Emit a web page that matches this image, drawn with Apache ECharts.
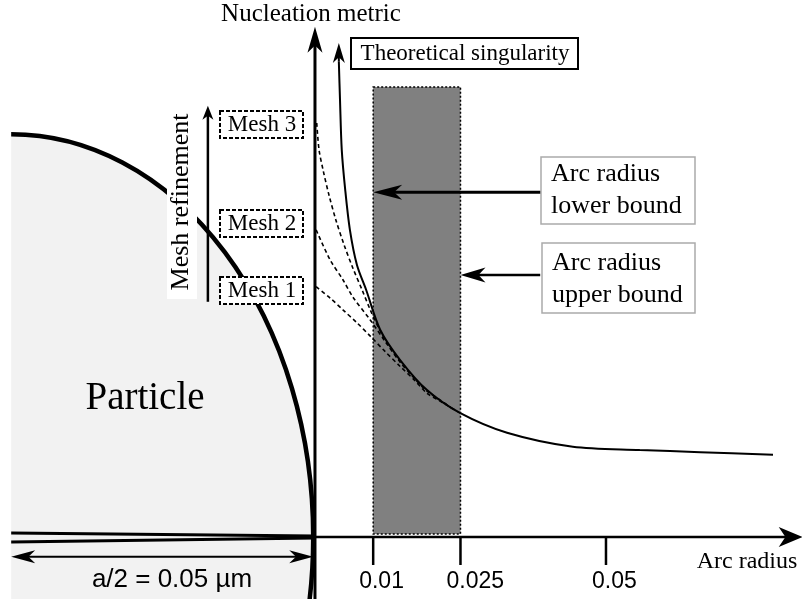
<!DOCTYPE html>
<html><head><meta charset="utf-8">
<script src="https://cdn.jsdelivr.net/npm/echarts@6/dist/echarts.min.js"></script>
<style>html,body{margin:0;padding:0;background:#fff}#c{width:802px;height:599px}</style>
</head><body><div id="c"></div>
<script>
// ---- scales (arc radius on x, nucleation metric in arbitrary units on y)
const X_MIN = -0.05412, X_MAX = 0.08368;
const Y_MIN = -1.155, Y_MAX = 10;

// ---- x-axis ticks
const tickValues = [0.01, 0.025, 0.05];
const tickLabels = ['0.01', '0.025', '0.05'];

// ---- curves
const singularityCurve = [[0.0041,8.85],[0.0043,8.14],[0.0046,7.21],[0.0052,6.46],[0.0060,5.72],[0.0072,5.07],[0.0088,4.60],[0.0112,3.86],[0.0146,3.30],[0.0192,2.74],[0.0249,2.31],[0.0330,1.94],[0.0443,1.68],[0.0558,1.62],[0.0662,1.58],[0.0787,1.53]];
const mesh3Curve = [[0.0003,7.71],[0.0007,7.21],[0.0014,6.83],[0.0024,6.37],[0.0036,5.90],[0.0050,5.44],[0.0065,5.01],[0.0081,4.60],[0.0095,4.23],[0.0112,3.84],[0.0132,3.48],[0.0146,3.28]];
const mesh2Curve = [[0.0002,5.72],[0.0026,5.16],[0.0048,4.79],[0.0065,4.47],[0.0095,4.04],[0.0120,3.65],[0.0146,3.26],[0.0172,2.94],[0.0192,2.72],[0.0215,2.55],[0.0235,2.40]];
const mesh1Curve = [[0.0002,4.66],[0.0026,4.45],[0.0048,4.23],[0.0072,3.99],[0.0095,3.74],[0.0120,3.46],[0.0146,3.18],[0.0172,2.91],[0.0192,2.68],[0.0215,2.53],[0.0246,2.33]];

// ---- arc radius bounds band
const boundsRange = [0.01, 0.025];
const boundsMetric = [0.056, 8.38];

// ---- particle (centre and radii)
const particleCenter = [-0.0522, 0];
const particleRadii = [0.0519, 7.5];

// ---- arrows / segments [x1, y1, x2, y2]
const arrowSegments = [
  [0, -1.155, 0, 9.50],          // nucleation metric axis
  [0, 0, 0.0838, 0],             // arc radius axis
  [0.0041, 8.85, 0.0041, 9.20],  // theoretical singularity
  [-0.0184, 4.38, -0.0184, 8.03],// mesh refinement
  [0.0388, 6.42, 0.01, 6.42],    // lower bound
  [0.0387, 4.88, 0.025, 4.88],   // upper bound
  [-0.0522, -0.37, -0.0003, -0.37], // a/2
  [-0.0522, 0.075, 0, 0.019],    // particle section line
  [-0.0522, -0.093, 0, -0.019]   // particle section line
];
const arrowStyles = [
  {len:26, wid:15, lw:3},
  {len:24, wid:20, lw:2.5},
  {len:20, wid:12, lw:2},
  {len:14, wid:11, lw:2.5},
  {len:29, wid:15, lw:3},
  {len:25, wid:15, lw:2.5},
  {len:24, wid:13, lw:2, both:true},
  {len:0, lw:3},
  {len:0, lw:3}
];

const SERIF = '"Liberation Serif", "Times New Roman", serif';
const SANS = '"Liberation Sans", Arial, sans-serif';

function arrowItem(params, api) {
  const st = arrowStyles[params.dataIndex];
  const p1 = api.coord([api.value(0), api.value(1)]);
  const p2 = api.coord([api.value(2), api.value(3)]);
  const dx = p2[0] - p1[0], dy = p2[1] - p1[1];
  const L = Math.hypot(dx, dy);
  const ux = dx / L, uy = dy / L, nx = -uy, ny = ux;
  const children = [];
  function head(tip, sx, sy) {
    const bx = tip[0] - sx * st.len, by = tip[1] - sy * st.len;
    const w = st.wid / 2;
    const notch = [tip[0] - sx * st.len * 0.72, tip[1] - sy * st.len * 0.72];
    return {type:'polygon', shape:{points:[tip, [bx + nx * w, by + ny * w], notch, [bx - nx * w, by - ny * w]]}, style:{fill:'#000'}};
  }
  let a = p1, b = p2;
  if (st.len) {
    b = [p2[0] - ux * st.len * 0.6, p2[1] - uy * st.len * 0.6];
    children.push(head(p2, ux, uy));
    if (st.both) {
      a = [p1[0] + ux * st.len * 0.6, p1[1] + uy * st.len * 0.6];
      children.push(head(p1, -ux, -uy));
    }
  }
  children.unshift({type:'line', shape:{x1:a[0], y1:a[1], x2:b[0], y2:b[1]}, style:{stroke:'#000', lineWidth:st.lw}});
  return {type:'group', children};
}

function txt(x, y, text, font, align, extra, rotation) {
  return {type:'text', x, y, z:101, rotation: rotation || 0, style:Object.assign({text, font, fill:'#000',
    align:align, textAlign:align, verticalAlign:'middle', textVerticalAlign:'middle'}, extra || {})};
}
function box(x, y, w, h, style) {
  return {type:'rect', z:100, shape:{x, y, width:w, height:h}, style:Object.assign({fill:'#fff'}, style)};
}

const chart = echarts.init(document.getElementById('c'), null, {renderer:'canvas'});
chart.setOption({
  animation:false,
  backgroundColor:'#fff',
  grid:{left:0, right:0, top:0, bottom:0, containLabel:false},
  xAxis:{type:'value', min:X_MIN, max:X_MAX, show:false},
  yAxis:{type:'value', min:Y_MIN, max:Y_MAX, show:false},
  series:[
    { type:'custom', z:0, silent:true,
      data:[[particleCenter[0], particleCenter[1], particleRadii[0], particleRadii[1]]],
      encode:{x:0, y:1},
      renderItem(params, api) {
        const c = api.coord([api.value(0), api.value(1)]);
        const s = api.size([api.value(2), api.value(3)]);
        const rx = s[0], ry = s[1];
        const arc = 'M ' + c[0] + ' ' + (c[1] - ry) + ' A ' + rx + ' ' + ry + ' 0 0 1 ' + (c[0] + rx) + ' ' + c[1] +
                    ' A ' + rx + ' ' + ry + ' 0 0 1 ' + c[0] + ' ' + (c[1] + ry);
        return {type:'group', children:[
          {type:'path', shape:{pathData:arc + ' Z'}, style:{fill:'#f2f2f2', stroke:null}},
          {type:'path', shape:{pathData:arc}, style:{fill:null, stroke:'#000', lineWidth:4.5}}
        ]};
      }
    },
    { type:'custom', z:1, silent:true,
      data:[[boundsRange[0], boundsMetric[0], boundsRange[1], boundsMetric[1]]],
      encode:{x:[0,2], y:[1,3]},
      renderItem(params, api) {
        const a = api.coord([api.value(0), api.value(1)]);
        const b = api.coord([api.value(2), api.value(3)]);
        return {type:'rect', shape:{x:a[0], y:b[1], width:b[0] - a[0], height:a[1] - b[1]},
          style:{fill:'#808080', stroke:'#000', lineWidth:1.5, lineDash:[2,2]}};
      }
    },
    { type:'line', z:3, data:mesh3Curve, smooth:0.3, symbol:'none', clip:false,
      lineStyle:{color:'#000', width:1.6, type:[4,3]} },
    { type:'line', z:3, data:mesh2Curve, smooth:0.3, symbol:'none', clip:false,
      lineStyle:{color:'#000', width:1.6, type:[4,3]} },
    { type:'line', z:3, data:mesh1Curve, smooth:0.3, symbol:'none', clip:false,
      lineStyle:{color:'#000', width:1.6, type:[4,3]} },
    { type:'line', z:4, data:singularityCurve, smooth:0.3, symbol:'none', clip:false,
      lineStyle:{color:'#000', width:2} },
    { type:'custom', z:5, silent:true, data:arrowSegments, encode:{x:[0,2], y:[1,3]}, renderItem:arrowItem },
    { type:'custom', z:5, silent:true, data:tickValues.map((v, i) => [v, 0, i]), encode:{x:0, y:1},
      renderItem(params, api) {
        const p = api.coord([api.value(0), api.value(1)]);
        return {type:'group', children:[
          {type:'line', shape:{x1:p[0], y1:p[1], x2:p[0], y2:p[1] + 28}, style:{stroke:'#000', lineWidth:2.5}},
          {type:'text', x:p[0] - 14, y:p[1] + 45, style:{text:tickLabels[params.dataIndex], font:'23px ' + SANS,
            fill:'#000', align:'left', verticalAlign:'middle'}}
        ]};
      }
    }
  ],
  graphic:[
    box(167, 106, 30, 193, {stroke:null}),
    txt(181, 202, 'Mesh refinement', '26px ' + SERIF, 'center', null, Math.PI / 2),
    box(220, 111, 83, 27, {stroke:'#000', lineWidth:2, lineDash:[4,2]}),
    box(220, 210, 83, 27, {stroke:'#000', lineWidth:2, lineDash:[4,2]}),
    box(220, 277, 83, 27, {stroke:'#000', lineWidth:2, lineDash:[4,2]}),
    txt(262, 125, 'Mesh 3', '23px ' + SERIF, 'center'),
    txt(262, 224, 'Mesh 2', '23px ' + SERIF, 'center'),
    txt(262, 291, 'Mesh 1', '23px ' + SERIF, 'center'),
    box(351, 38, 227, 31, {stroke:'#000', lineWidth:2}),
    txt(465, 54, 'Theoretical singularity', '23px ' + SERIF, 'center'),
    box(541, 157, 154, 67, {stroke:'#aaaaaa', lineWidth:1.5}),
    txt(551, 190, 'Arc radius\nlower bound', '26px ' + SERIF, 'left', {lineHeight:32}),
    box(542, 243, 153, 70, {stroke:'#aaaaaa', lineWidth:1.5}),
    txt(552, 279, 'Arc radius\nupper bound', '26px ' + SERIF, 'left', {lineHeight:32}),
    txt(311, 14, 'Nucleation metric', '25px ' + SERIF, 'center'),
    txt(145, 399, 'Particle', '39px ' + SERIF, 'center'),
    txt(172, 580, 'a/2 = 0.05 µm', '26px ' + SANS, 'center'),
    txt(747, 562, 'Arc radius', '24px ' + SERIF, 'center')
  ]
});
</script></body></html>
